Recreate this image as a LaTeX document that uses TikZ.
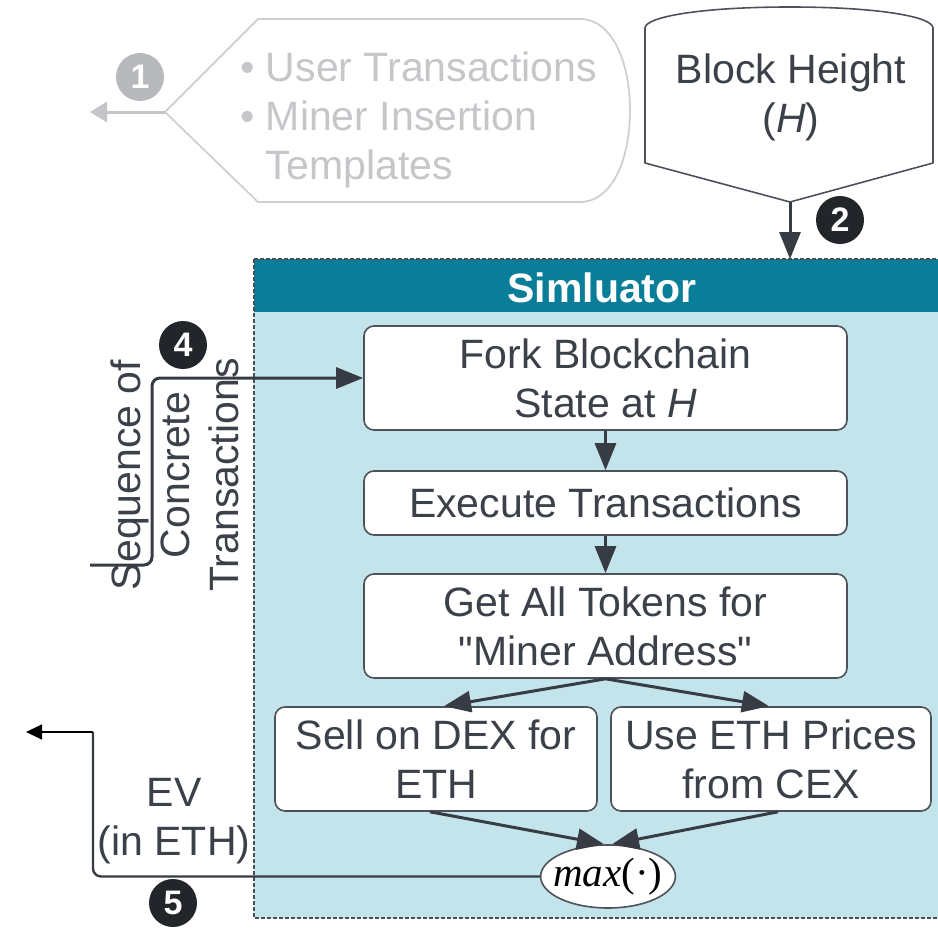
\documentclass[tikz,border=0pt]{standalone}
\usepackage{fontspec}
\setmainfont{Liberation Sans}
\newfontfamily\plainsans{Liberation Sans}
\newfontfamily\timesfont{Liberation Serif}
\usetikzlibrary{arrows.meta,calc,shapes.geometric}

\definecolor{lineDark}{HTML}{373C44}
\definecolor{textDark}{HTML}{3B4049}
\definecolor{boxEdge}{HTML}{4D525A}
\definecolor{simTeal}{HTML}{0A7E98}
\definecolor{simBody}{HTML}{C4E4EC}
\definecolor{simEdge}{HTML}{4A4F57}
\definecolor{fadeText}{HTML}{C5C6C9}
\definecolor{fadeEdge}{HTML}{CFD0D3}
\definecolor{fadeDisc}{HTML}{B8B9BC}
\definecolor{fadeLine}{HTML}{C3C4C7}
\definecolor{discDark}{HTML}{22262B}

% straight double quote, set without the TeX quote mapping
\newcommand{\straightquote}{{\plainsans"}}

\tikzset{
  txt/.style={font=\fontsize{41}{49}\selectfont, text=textDark, align=center, inner sep=0pt},
  stepbox/.style={txt, draw=boxEdge, line width=1.6pt, fill=white, rounded corners=10pt},
  conn/.style={draw=lineDark, line width=3pt},
  tip/.style={-{Triangle[length=27pt,width=21pt]}},
  numdark/.style={circle, fill=discDark, text=white, minimum size=48pt, inner sep=0pt,
                  font=\fontsize{34}{34}\bfseries\selectfont},
  numfade/.style={numdark, fill=fadeDisc},
}

\begin{document}
\begin{tikzpicture}[x=1pt,y=-1pt]
\useasboundingbox (0,0) rectangle (938,929);

% ---- faded input shape (step 1) ----
\coordinate (gtip) at (165,112);
\coordinate (gend) at (90,112);
\draw[fadeEdge, line width=1.8pt, line join=round]
  (gtip) -- (258,19) -- (580,19)
  .. controls (612,19) and (630,62) .. (630,110)
  .. controls (630,160) and (612,202) .. (580,202)
  -- (258,202) -- cycle;
\node[txt, text=fadeText, align=left, anchor=west] (inputs) at (240,120)
  {• User Transactions\\• Miner Insertion\\\phantom{• }Templates};
\draw[fadeLine, line width=3pt, -{Triangle[length=17pt,width=20pt]}] (gtip) -- (gend);
\node[numfade] (n1) at (140,77) {1};

% ---- block height input (step 2) ----
\coordinate (bhtip) at (790,202);
\draw[boxEdge, line width=1.6pt, line join=round]
  (645,163) -- (645,28)
  .. controls (645,17) and (700,7) .. (790,7)
  .. controls (880,7) and (933,17) .. (933,28)
  -- (933,163) -- (bhtip) -- cycle;
\node[txt] (bh) at (791,97) {Block Height\\(\textit{H})};

% ---- simulator container ----
\fill[simBody] (254,259) rectangle (950,918);
\fill[simTeal] (254,259) rectangle (950,312);
\draw[simEdge, line width=1.2pt, dash pattern=on 4pt off 2pt] (254,259) rectangle (950,918);
\node[txt, text=white, font=\fontsize{41}{49}\bfseries\selectfont] (simtitle) at (602,288) {Simluator};
\coordinate (simtop) at (790,259);

\draw[conn, tip] (bhtip) -- (simtop);
\node[numdark] (n2) at (840,220) {2};

% ---- processing steps ----
\node[stepbox, minimum width=483pt, minimum height=104pt] (fork) at (605.5,378)
  {Fork Blockchain\\State at \textit{H}};
\node[stepbox, minimum width=483pt, minimum height=64pt] (exec) at (605.5,503)
  {Execute Transactions};
\node[stepbox, minimum width=483pt, minimum height=104pt] (tokens) at (605.5,626)
  {Get All Tokens for\\\straightquote Miner Address\straightquote};
\node[stepbox, minimum width=322pt, minimum height=104pt] (sell) at (436,759)
  {Sell on DEX for\\ETH};
\node[stepbox, minimum width=320pt, minimum height=104pt] (cex) at (771,759)
  {Use ETH Prices\\from CEX};
\node[ellipse, draw=boxEdge, line width=1.6pt, fill=white, minimum width=132pt,
      minimum height=63pt, inner sep=-7pt, font=\fontsize{41}{41}\selectfont] (maxn) at (608,876.5)
  {\timesfont\textit{max}(·)};

\draw[conn, tip] (fork.south) -- (exec.north);
\draw[conn, tip] (exec.south) -- (tokens.north);
\draw[conn, tip] (tokens.south) -- ([xshift=8pt]sell.north);
\draw[conn, tip] (tokens.south) -- ([xshift=-2pt]cex.north);
\draw[conn, tip] ([xshift=-6pt]sell.south) -- ([xshift=-4pt]maxn.north);
\draw[conn, tip] ([xshift=7pt]cex.south) -- ([xshift=4pt]maxn.north);

% ---- transaction sequence input (step 4) ----
\node[txt, rotate=90] (seq) at (175,475) {Sequence of\\Concrete\\Transactions};
\coordinate (seqstart) at (90,565);
\coordinate (seqbend) at (152,565);
\draw[conn, tip, rounded corners=8pt] (seqstart) -- (seqbend) |- (fork.west);
\node[numdark] (n4) at (183,345) {4};

% ---- EV output (step 5) ----
\coordinate (evc) at (93,732);
\coordinate (evend) at (26,732);
\draw[conn, line width=2.4pt, rounded corners=8pt] (maxn.west) -| (evc);
\draw[black, line width=1.4pt, -{Triangle[length=16pt,width=15pt]}] (evc) -- (evend);
\node[txt] (ev) at (174,821) {EV\\(in ETH)};
\node[numdark] (n5) at (173,903) {5};
\end{tikzpicture}
\end{document}
